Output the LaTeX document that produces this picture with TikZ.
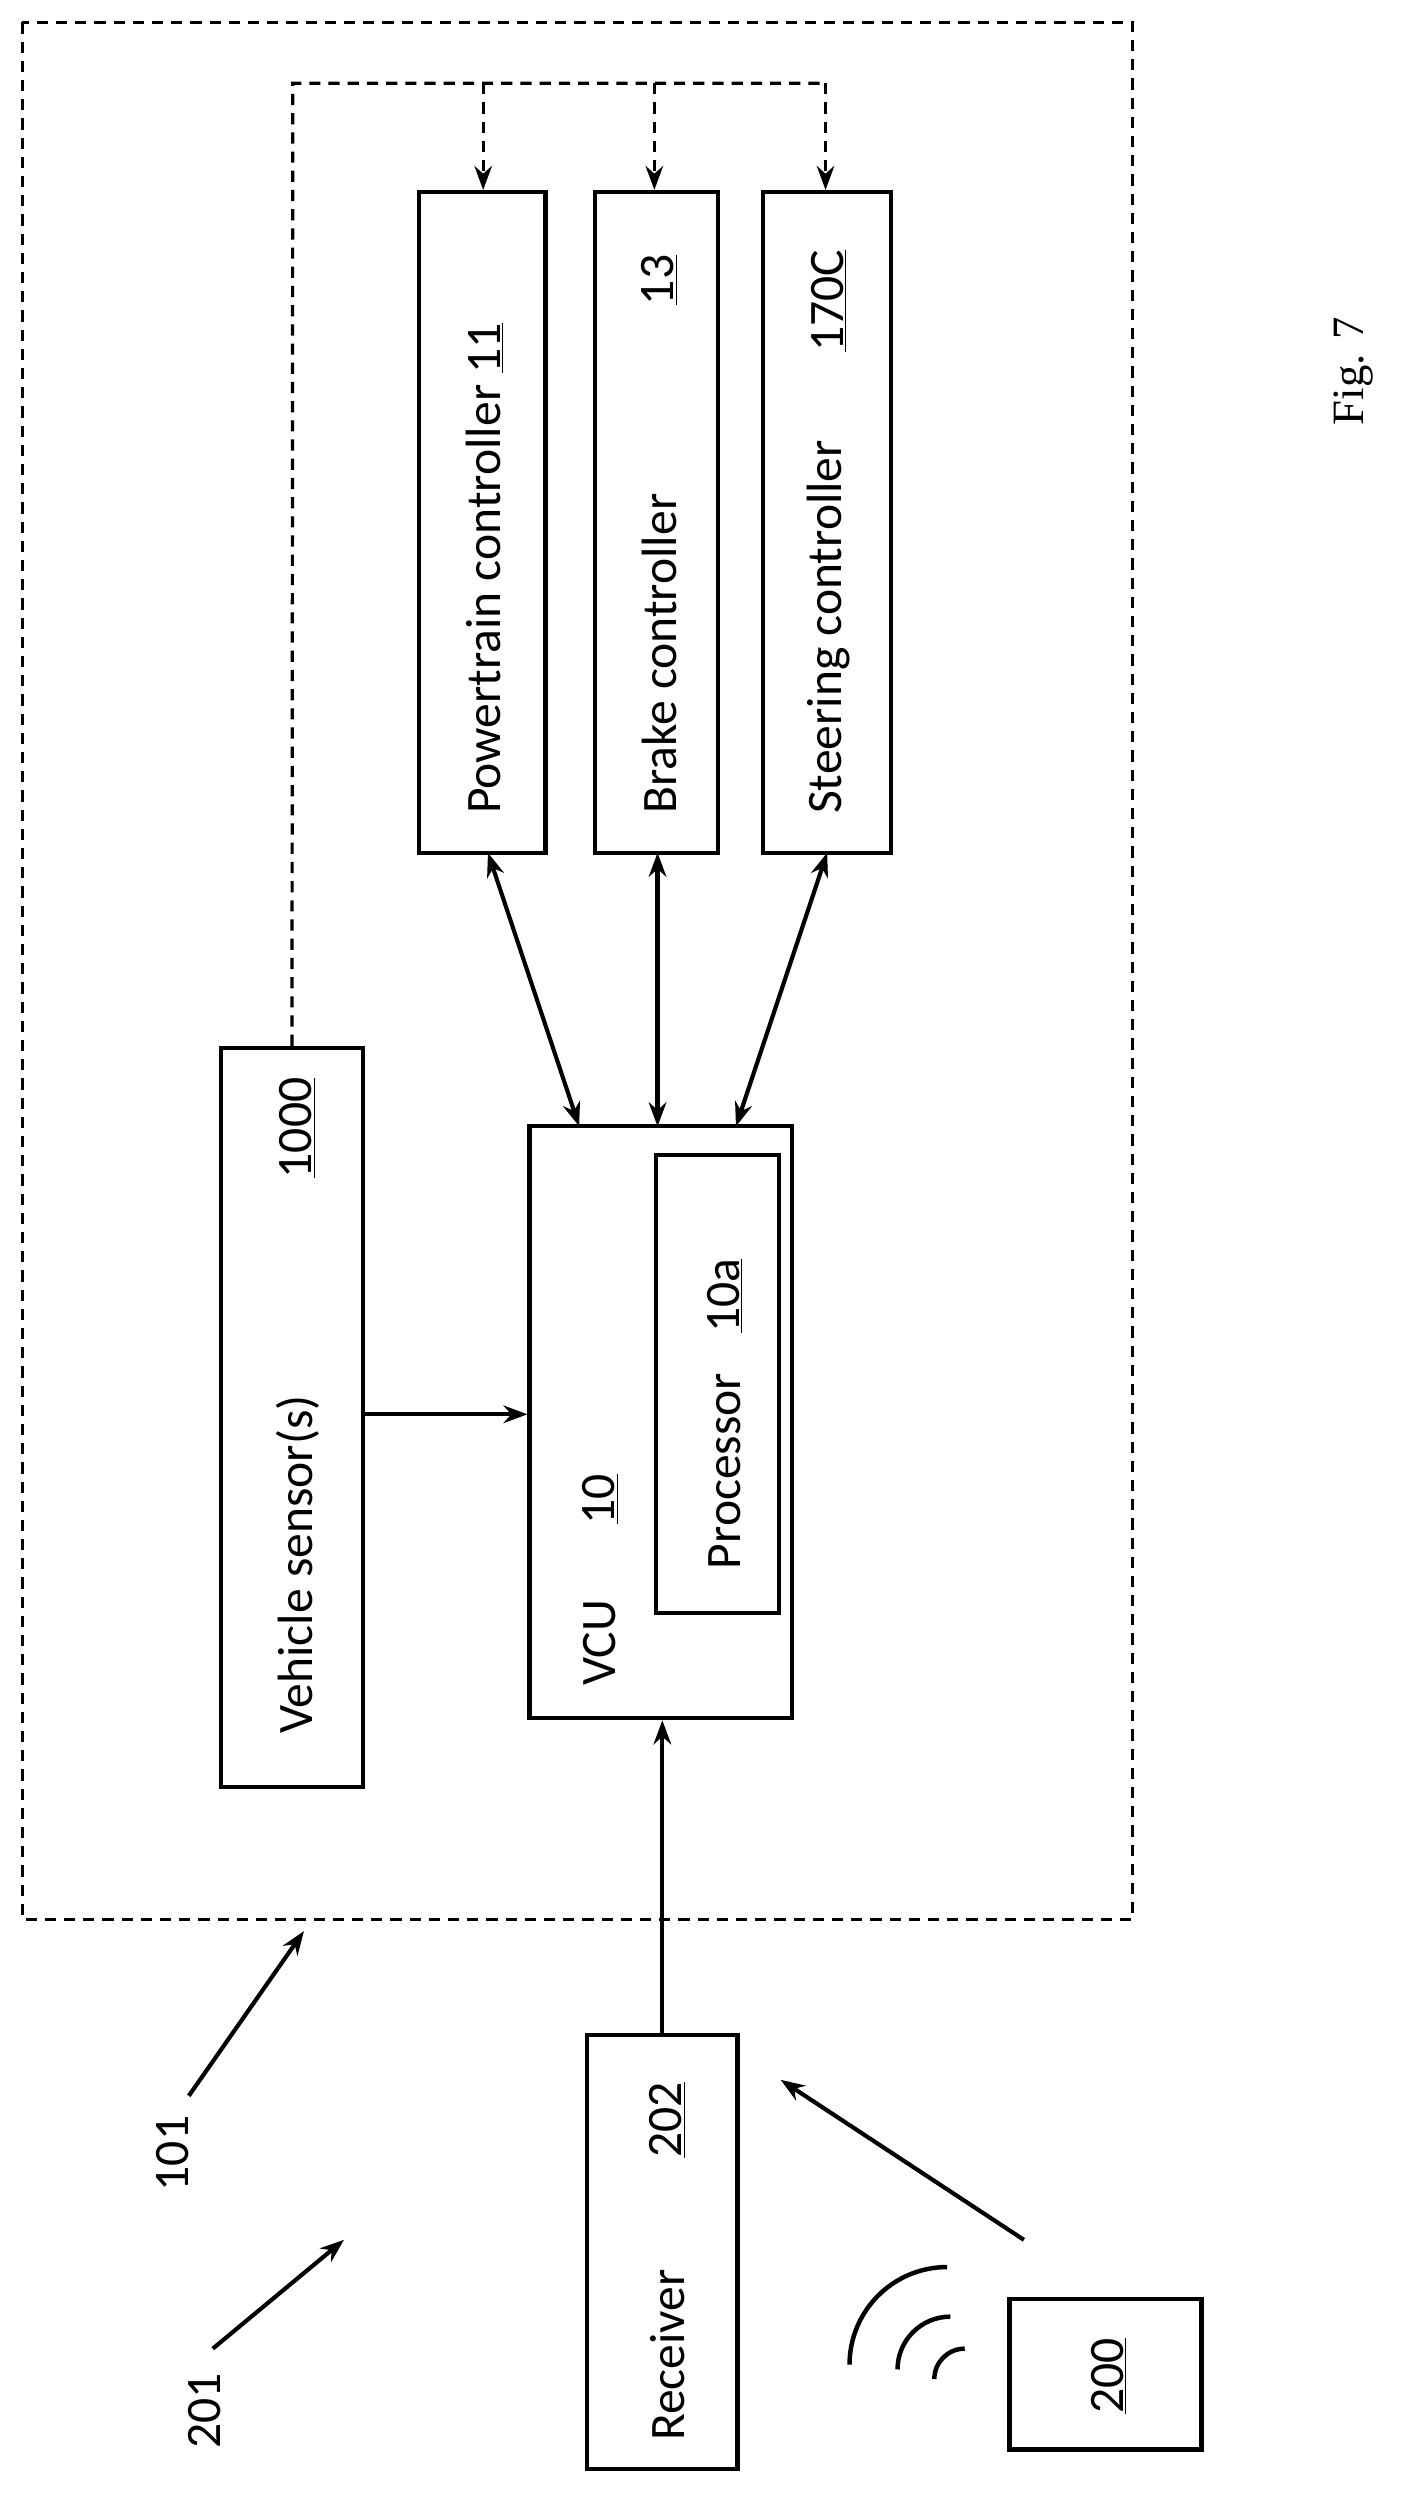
\documentclass[tikz,border=0pt]{standalone}
\usepackage{fontspec}
\setmainfont{Carlito}
\newfontfamily\figfont{Liberation Serif}
\usetikzlibrary{arrows.meta}
\begin{document}
\begin{tikzpicture}[x=1pt,y=-1pt,line width=2.6pt,
  box/.style={draw,line width=2.6pt},
  arr/.style={-{Stealth[length=15pt,width=11pt]}},
  darr/.style={{Stealth[length=15pt,width=11pt]}-{Stealth[length=15pt,width=11pt]}},
  dsh/.style={line width=2pt,dash pattern=on 7pt off 5pt},
  lbl/.style={rotate=90,font=\fontsize{31}{34}\selectfont,inner sep=0pt}]
\useasboundingbox (0,0) rectangle (877,1572);
\draw[dsh] (14,14) rectangle (708,1200);
\node[box,minimum width=79pt,minimum height=413pt] (pt) at (301.5,326.5) {};
\node[box,minimum width=77pt,minimum height=413pt] (br) at (410.5,326.5) {};
\node[box,minimum width=80pt,minimum height=413pt] (st) at (517,326.5) {};
\node[box,minimum width=89pt,minimum height=462pt] (vs) at (182.5,886) {};
\node[box,minimum width=164pt,minimum height=370pt] (vcu) at (413,889) {};
\node[box,minimum width=77pt,minimum height=286pt] (proc) at (448.5,865) {};
\node[box,minimum width=94pt,minimum height=271pt] (rx) at (414,1407.5) {};
\node[box,minimum width=120pt,minimum height=94pt] (d200) at (691,1484) {};
% texts
\node[lbl,anchor=west] (tpt) at (303,510) {Powertrain controller \underline{11}};
\node[lbl,anchor=west] (tbr) at (412,510) {Brake controller};
\node[lbl] (nbr) at (412,175) {\underline{13}};
\node[lbl,anchor=west] (tst) at (518,510) {Steering controller};
\node[lbl] (nst) at (518,188) {\underline{170C}};
\node[lbl,anchor=west] (tvs) at (186,1085) {Vehicle sensor(s)};
\node[lbl] (nvs) at (186,705) {\underline{1000}};
\node[lbl,anchor=west] (tvcu) at (375,1055) {VCU};
\node[lbl] (nvcu) at (375,937) {\underline{10}};
\node[lbl,anchor=west] (tproc) at (453,982) {Processor};
\node[lbl] (nproc) at (453,810) {\underline{10a}};
\node[lbl,anchor=west] (trx) at (417,1527) {Receiver};
\node[lbl] (nrx) at (417,1325) {\underline{202}};
\node[lbl] (n200) at (693,1485) {\underline{200}};
\node[lbl] (l101) at (108,1346) {101};
\node[lbl] (l201) at (128,1507) {201};
\node[rotate=90,font=\figfont\fontsize{28}{30}\selectfont] (fig) at (846,232) {Fig. 7};
% dashed bus
\coordinate (b0) at (183,52);
\draw[dsh] (vs.north) -- (b0) -- (516,52);
\foreach \t/\x in {pt/302,br/409,st/516}{
  \draw[dsh,arr] (\x,52) -- (\t.north -| \x,0);}
% connectors
\draw[arr] (vs.east |- 0,884) -- (vcu.west |- 0,884);
\draw[darr] (305,533) -- (362,704);
\draw[darr] (411,533) -- (411,704);
\draw[darr] (517,533) -- (460,704);
\draw[arr] (rx.north) -- (vcu.south -| rx.north);
\coordinate (w0) at (640,1400);
\draw[arr] (w0) -- (488,1300);
\coordinate (a101) at (118,1310);
\draw[arr] (a101) -- (190,1207);
\coordinate (a201) at (133,1468);
\draw[arr] (a201) -- (215,1400);
% waves
\draw[line width=2.8pt] (531,1478) arc[start angle=180,end angle=270,radius=61];
\draw[line width=2.8pt] (561,1481) arc[start angle=180,end angle=270,radius=33];
\draw[line width=2.8pt] (584,1487) arc[start angle=180,end angle=270,radius=19];
\end{tikzpicture}
\end{document}
